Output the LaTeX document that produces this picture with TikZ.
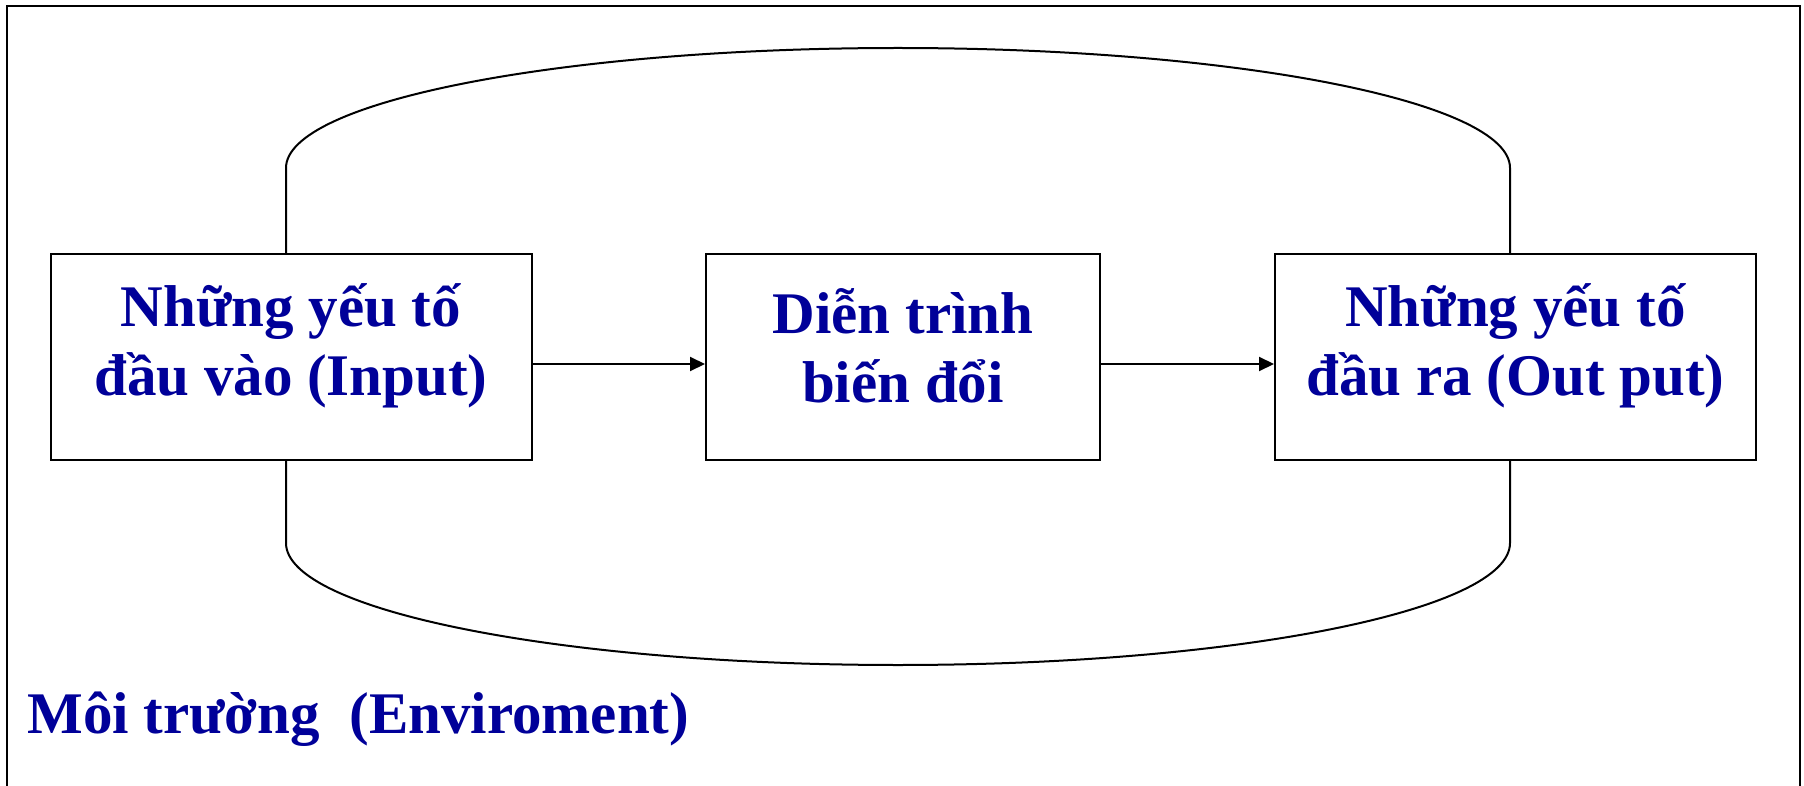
\documentclass[tikz,border=0pt]{standalone}
\usepackage{fontspec}
\setmainfont{Liberation Serif}
\usetikzlibrary{arrows.meta}
\definecolor{navytext}{RGB}{0,0,153}
\tikzset{
  blockbox/.style={draw=black, line width=1pt, fill=white,
    inner sep=0pt, minimum height=103pt},
  boxtext/.style={align=center, inner sep=0pt, text=navytext,
    font=\fontsize{29.5pt}{34.5pt}\selectfont\bfseries},
  flowline/.style={draw=black, line width=1pt},
  flowarrow/.style={flowline, -{Triangle[length=7.5pt,width=7pt]}},
  envtext/.style={text=navytext, inner sep=0pt,
    font=\fontsize{29.5pt}{34.5pt}\selectfont\bfseries}
}
\begin{document}
\begin{tikzpicture}[x=0.5pt,y=-0.5pt]
\useasboundingbox (0,0) rectangle (1804,786);
\fill[white] (0,0) rectangle (1804,786);
% outer frame (open at bottom)
\draw[line width=1pt] (7,786) -- (7,6) -- (1800,6) -- (1800,786);
% boxes
\node[blockbox, minimum width=240.5pt] (in) at (291,357) {};
\node[blockbox, minimum width=197pt] (proc) at (903,357) {};
\node[blockbox, minimum width=240.5pt] (out) at (1515.5,357) {};
\node[boxtext] (intext) at ([yshift=5.5pt]in.center) {Những yếu tố\\đầu vào (Input)};
\node[boxtext] (proctext) at ([yshift=5.5pt]proc.center) {Diễn trình\\biến đổi};
\node[boxtext] (outtext) at ([yshift=5.5pt]out.center) {Những yếu tố\\đầu ra (Out put)};
% loop anchors
\coordinate (lx) at (286,0);
\coordinate (rx) at (1510,0);
% upper loop
\draw[flowline] (in.north -| lx) -- (286,168)
  arc[start angle=180, end angle=0, x radius=306pt, y radius=60pt]
  -- (out.north -| rx);
% lower loop
\draw[flowline] (in.south -| lx) -- (286,543)
  arc[start angle=180, end angle=360, x radius=306pt, y radius=61pt]
  -- (out.south -| rx);
% arrows
\draw[flowarrow] ([yshift=-3.5pt]in.east) -- ([yshift=-3.5pt]proc.west);
\draw[flowarrow] ([yshift=-3.5pt]proc.east) -- ([yshift=-3.5pt]out.west);
% environment label
\node[envtext, anchor=base west] (env) at (27,733) {Môi trường\ \ (Enviroment)};
\end{tikzpicture}
\end{document}
